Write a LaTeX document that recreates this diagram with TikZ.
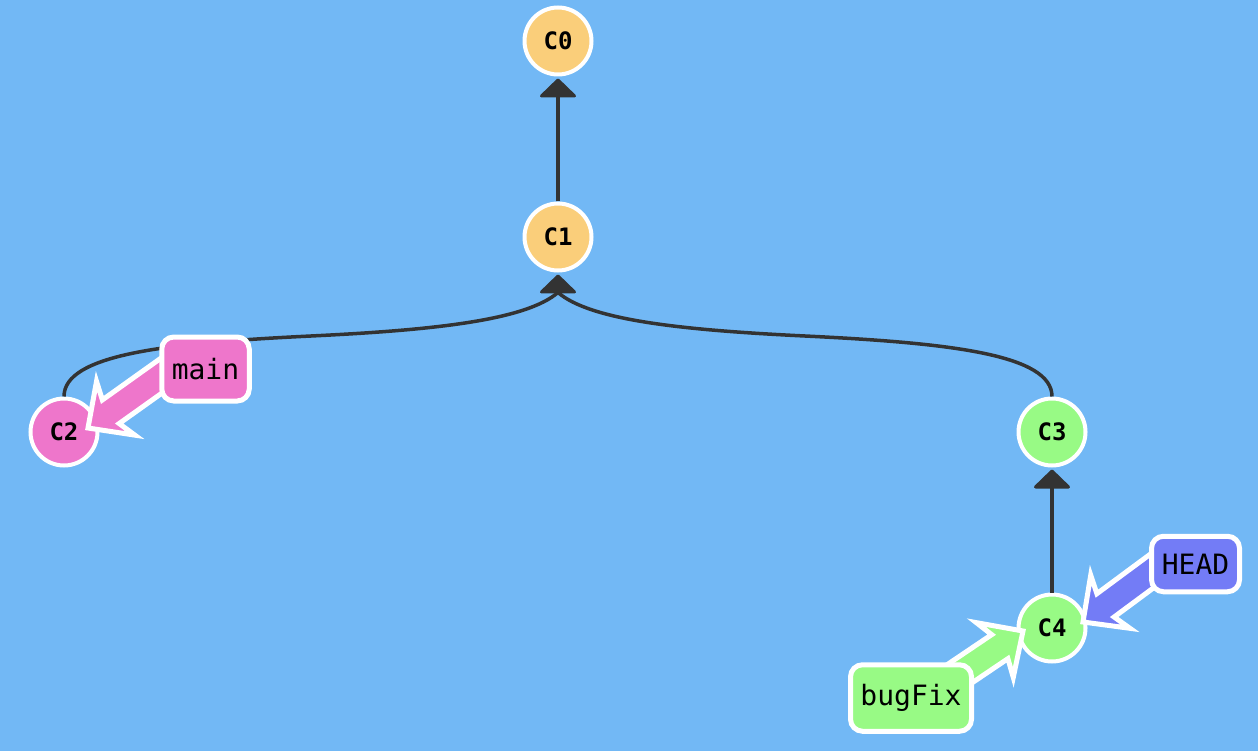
\documentclass[tikz,border=0pt]{standalone}
\usepackage{fontspec}
\newfontfamily\gitmono{DejaVu Sans Mono}
\usetikzlibrary{calc}
\definecolor{bgc}{RGB}{114,184,245}
\definecolor{orangec}{RGB}{250,206,122}
\definecolor{greenc}{RGB}{152,250,133}
\definecolor{pinkc}{RGB}{238,118,203}
\definecolor{headc}{RGB}{115,124,246}
\definecolor{edgec}{RGB}{51,51,51}
\newcommand\fatarrow[3]{%
  \begin{scope}[shift={(#1)},rotate=#2]
    \filldraw[fatarrowstyle,fill=#3] (0,0) -- (34,-33) -- (28,-14.5) -- (115,-14.5)
      -- (115,14.5) -- (28,14.5) -- (34,33) -- cycle;
  \end{scope}}
\begin{document}
\begin{tikzpicture}[x=1pt,y=-1pt,
  commit/.style={circle,draw=white,line width=4,minimum size=67,inner sep=0,
    font=\gitmono\bfseries\fontsize{24}{24}\selectfont},
  gitedge/.style={draw=edgec,line width=3.5},
  tipfill/.style={fill=edgec,draw=edgec,line width=3,line join=round},
  branchbox/.style={draw=white,line width=5,rounded corners=12,inner sep=0,
    font=\gitmono\fontsize{28}{28}\selectfont},
  fatarrowstyle/.style={draw=white,line width=5}]
\fill[bgc] (0,0) rectangle (1258,751);
\useasboundingbox (0,0) rectangle (1258,751);

% commits
\node[commit,fill=orangec] (C0) at (558,41) {C0};
\node[commit,fill=orangec] (C1) at (558,237) {C1};
\node[commit,fill=pinkc] (C2) at (64,432) {C2};
\node[commit,fill=greenc] (C3) at (1052,432) {C3};
\node[commit,fill=greenc] (C4) at (1052,628) {C4};

% edges
\draw[gitedge] (C1.north) -- ($(C0.south)+(0,19)$);
\filldraw[tipfill] ($(C0.south)+(0,3.5)$) -- ++(-16.5,16) -- ++(33,0) -- cycle;

\draw[gitedge] (C3.north) .. controls +(0,-42) and (950,343) .. (805,336)
  .. controls (680,330) and (590,320) .. ($(C1.south)+(0,20)$);
\draw[gitedge] (C2.north) .. controls +(0,-42) and (166,343) .. (311,336)
  .. controls (436,330) and (526,320) .. ($(C1.south)+(0,20)$);
\filldraw[tipfill] ($(C1.south)+(0,3.5)$) -- ++(-16.5,16) -- ++(33,0) -- cycle;

\draw[gitedge] (C4.north) -- ($(C3.south)+(0,19)$);
\filldraw[tipfill] ($(C3.south)+(0,3.5)$) -- ++(-16.5,16) -- ++(33,0) -- cycle;

% branch arrows
\coordinate (mainTip) at ($(C2)+(24,-4)$);
\coordinate (bugTip) at ($(C4)+(-29,3)$);
\coordinate (headTip) at ($(C4)+(31,-6)$);
\fatarrow{mainTip}{35.5}{pinkc}
\fatarrow{bugTip}{214}{greenc}
\fatarrow{headTip}{36.5}{headc}

% branch labels
\node[branchbox,fill=pinkc,minimum width=87.5,minimum height=64] (main) at (205.5,369) {main};
\node[branchbox,fill=headc,minimum width=88,minimum height=55.5] (HEAD) at (1195.5,564) {HEAD};
\node[branchbox,fill=greenc,minimum width=121,minimum height=66.5] (bugFix) at (911,698) {bugFix};
\end{tikzpicture}
\end{document}
